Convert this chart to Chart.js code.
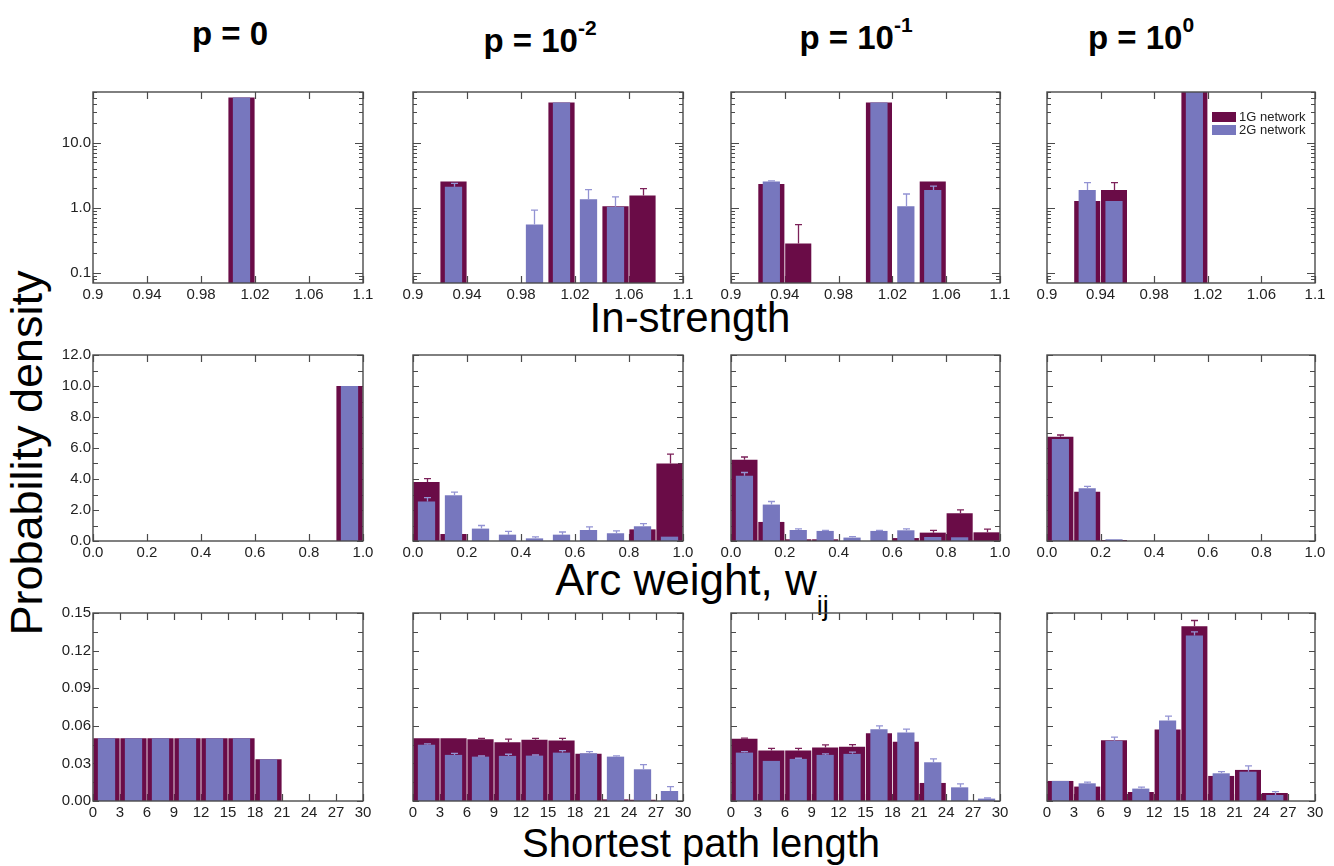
<!DOCTYPE html>
<html>
<head>
<meta charset="utf-8">
<script src="https://cdn.jsdelivr.net/npm/chart.js@4/dist/chart.umd.min.js"></script>
<style>
  html, body { margin:0; padding:0; background:#fff; }
  #wrap { position:relative; width:1334px; height:866px; overflow:hidden; background:#fff; font-family:"Liberation Sans", Arial, sans-serif; color:#000; }
  .ptitle { position:absolute; font-weight:bold; font-size:33px; line-height:33px; white-space:nowrap; transform:translateX(-50%); }
  .ptitle sup { font-size:21px; position:relative; top:-17px; vertical-align:baseline; line-height:0; }
  .atitle { position:absolute; font-size:42px; line-height:42px; white-space:nowrap; transform:translateX(-50%); }
  .atitle sub { font-size:27px; position:relative; top:20px; vertical-align:baseline; line-height:0; }
  #ylab { position:absolute; font-size:45px; line-height:45px; white-space:nowrap; left:26px; top:453px; transform:translate(-50%,-50%) rotate(-90deg); }
  canvas { position:absolute; }
</style>
</head>
<body>
<div id="wrap">
  <div class="ptitle" style="left:230px; top:17px;">p = 0</div>
  <div class="ptitle" style="left:540px; top:24px;">p = 10<sup>-2</sup></div>
  <div class="ptitle" style="left:856px; top:21px;">p = 10<sup>-1</sup></div>
  <div class="ptitle" style="left:1141px; top:21px;">p = 10<sup>0</sup></div>
  <div class="atitle" style="left:690px; top:297px;">In-strength</div>
  <div class="atitle" style="left:692px; top:558px; font-size:44px; line-height:44px;">Arc weight, w<sub>ij</sub></div>
  <div class="atitle" style="left:701px; top:823px; font-size:40px; line-height:40px;">Shortest path length</div>
  <div id="ylab">Probability density</div>
</div>
<script>
// ---------------- DATA ----------------
const seriesNames = ['1G network', '2G network'];

// Row 1: In-strength (bin width 0.02)
const inStrengthBins = [0.91, 0.93, 0.95, 0.97, 0.99, 1.01, 1.03, 1.05, 1.07, 1.09];
const inStrengthXTicks = [0.9, 0.94, 0.98, 1.02, 1.06, 1.1];
const inStrengthXLabels = ['0.9', '0.94', '0.98', '1.02', '1.06', '1.1'];
const inStrengthYTicks = [0.1, 1, 10];
const inStrengthYLabels = ['0.1', '1.0', '10.0'];
const inStrengthYMinor = [0.07, 0.08, 0.09, 0.2, 0.3, 0.4, 0.5, 0.6, 0.7, 0.8, 0.9, 2, 3, 4, 5, 6, 7, 8, 9, 20, 30, 40, 50, 60];

const inS_p0_1G      = [null, null, null, null, null, 50, null, null, null, null];
const inS_p0_1G_err  = [0, 0, 0, 0, 0, 0, 0, 0, 0, 0];
const inS_p0_2G      = [null, null, null, null, null, 50, null, null, null, null];
const inS_p0_2G_err  = [0, 0, 0, 0, 0, 0, 0, 0, 0, 0];

const inS_pm2_1G     = [null, 2.55, null, null, null, 42, null, 1.05, 1.55, null];
const inS_pm2_1G_err = [0, 0, 0, 0, 0, 0, 0, 0, 0.42, 0];
const inS_pm2_2G     = [null, 2.1, null, null, 0.55, 42, 1.35, 1.04, null, null];
const inS_pm2_2G_err = [0, 0.27, 0, 0, 0.37, 0, 0.55, 0.43, 0, 0];

const inS_pm1_1G     = [null, 2.32, 0.28, null, null, 42, null, 2.55, null, null];
const inS_pm1_1G_err = [0, 0, 0.27, 0, 0, 0, 0, 0, 0, 0];
const inS_pm1_2G     = [null, 2.55, null, null, null, 42, 1.05, 1.88, null, null];
const inS_pm1_2G_err = [0, 0.05, 0, 0, 0, 0, 0.58, 0.28, 0, 0];

const inS_p1_1G      = [null, 1.27, 1.88, null, null, 65, null, null, null, null];
const inS_p1_1G_err  = [0, 0, 0.56, 0, 0, 0, 0, 0, 0, 0];
const inS_p1_2G      = [null, 1.88, 1.27, null, null, 65, null, null, null, null];
const inS_p1_2G_err  = [0, 0.56, 0, 0, 0, 0, 0, 0, 0, 0];

// Row 2: Arc weight (bin width 0.1)
const arcBins = [0.05, 0.15, 0.25, 0.35, 0.45, 0.55, 0.65, 0.75, 0.85, 0.95];
const arcXTicks = [0, 0.2, 0.4, 0.6, 0.8, 1.0];
const arcXLabels = ['0.0', '0.2', '0.4', '0.6', '0.8', '1.0'];
const arcYTicks = [0, 2, 4, 6, 8, 10, 12];
const arcYLabels = ['0.0', '2.0', '4.0', '6.0', '8.0', '10.0', '12.0'];
const arcYMinor = [1, 3, 5, 7, 9, 11];

const arc_p0_1G      = [null, null, null, null, null, null, null, null, null, 10];
const arc_p0_1G_err  = [0, 0, 0, 0, 0, 0, 0, 0, 0, 0];
const arc_p0_2G      = [null, null, null, null, null, null, null, null, null, 10];
const arc_p0_2G_err  = [0, 0, 0, 0, 0, 0, 0, 0, 0, 0];

const arc_pm2_1G     = [3.8, 0.45, null, null, null, null, null, null, 0.75, 5.0];
const arc_pm2_1G_err = [0.22, 0, 0, 0, 0, 0, 0, 0, 0, 0.6];
const arc_pm2_2G     = [2.55, 2.95, 0.8, 0.41, 0.17, 0.41, 0.71, 0.5, 0.95, 0.28];
const arc_pm2_2G_err = [0.25, 0.2, 0.2, 0.21, 0.1, 0.17, 0.2, 0.15, 0.17, 0];

const arc_pm1_1G     = [5.24, 1.23, 0.11, 0.11, null, null, 0.19, 0.54, 1.79, 0.56];
const arc_pm1_1G_err = [0.18, 0, 0, 0, 0, 0, 0, 0.15, 0.22, 0.2];
const arc_pm1_2G     = [4.21, 2.35, 0.71, 0.65, 0.22, 0.65, 0.69, 0.26, 0.24, null];
const arc_pm1_2G_err = [0.21, 0.2, 0.07, 0.04, 0.06, 0.04, 0.09, 0, 0, 0];

const arc_p1_1G      = [6.73, 3.17, 0.06, null, null, null, null, null, null, null];
const arc_p1_1G_err  = [0.11, 0, 0, 0, 0, 0, 0, 0, 0, 0];
const arc_p1_2G      = [6.58, 3.41, 0.11, null, null, null, null, null, null, null];
const arc_p1_2G_err  = [0, 0.11, 0, 0, 0, 0, 0, 0, 0, 0];

// Row 3: Shortest path length (bin width 3)
const splBins = [1.5, 4.5, 7.5, 10.5, 13.5, 16.5, 19.5, 22.5, 25.5, 28.5];
const splXTicks = [0, 3, 6, 9, 12, 15, 18, 21, 24, 27, 30];
const splXLabels = ['0', '3', '6', '9', '12', '15', '18', '21', '24', '27', '30'];
const splYTicks = [0, 0.03, 0.06, 0.09, 0.12, 0.15];
const splYLabels = ['0.00', '0.03', '0.06', '0.09', '0.12', '0.15'];
const splYMinor = [0.015, 0.045, 0.075, 0.105, 0.135];

const spl_p0_1G      = [0.05, 0.05, 0.05, 0.05, 0.05, 0.05, 0.0333, null, null, null];
const spl_p0_1G_err  = [0, 0, 0, 0, 0, 0, 0, 0, 0, 0];
const spl_p0_2G      = [0.05, 0.05, 0.05, 0.05, 0.05, 0.05, 0.0333, null, null, null];
const spl_p0_2G_err  = [0, 0, 0, 0, 0, 0, 0, 0, 0, 0];

const spl_pm2_1G     = [0.0501, 0.0501, 0.0493, 0.0469, 0.0488, 0.0482, 0.0376, 0.0013, 0.001, null];
const spl_pm2_1G_err = [0, 0, 0.0007, 0.0024, 0.0012, 0.0018, 0, 0, 0, 0];
const spl_pm2_2G     = [0.0448, 0.0368, 0.0354, 0.036, 0.0362, 0.0386, 0.0381, 0.0354, 0.0253, 0.008];
const spl_pm2_2G_err = [0.0008, 0.0012, 0.0005, 0.0013, 0.0005, 0.0016, 0.0013, 0.0006, 0.0037, 0.0035];

const spl_pm1_1G     = [0.0496, 0.0402, 0.0402, 0.0426, 0.0432, 0.054, 0.0472, 0.0144, null, null];
const spl_pm1_1G_err = [0.0005, 0.0018, 0.0018, 0.0022, 0.0018, 0, 0, 0, 0, 0];
const spl_pm1_2G     = [0.0386, 0.032, 0.0336, 0.0368, 0.0376, 0.0573, 0.0546, 0.0309, 0.0109, 0.0019];
const spl_pm1_2G_err = [0.0008, 0, 0.0005, 0.0008, 0.0014, 0.0027, 0.0027, 0.0027, 0.0027, 0.0005];

const spl_p1_1G      = [0.016, 0.0115, 0.0485, 0.0072, 0.057, 0.1394, 0.02, 0.0248, 0.0064, null];
const spl_p1_1G_err  = [0, 0, 0, 0, 0, 0.0046, 0, 0, 0, 0];
const spl_p1_2G      = [0.016, 0.0141, 0.048, 0.0099, 0.0642, 0.132, 0.0221, 0.0234, 0.0048, null];
const spl_p1_2G_err  = [0, 0.0009, 0.003, 0.0011, 0.0035, 0.003, 0.0013, 0.0046, 0.0027, 0];

// ---------------- STYLE / LAYOUT ----------------
const MAROON = '#6a0c47';
const BLUE = '#7777be';
const MAROON_ERR = '#7c2159';
const BLUE_ERR = '#9393d3';
const FRAME = '#4a4a4a';
const COLS = [[93, 363], [413, 683], [731, 1000], [1047, 1315]];
const ROWS = [[92, 283], [355, 541], [613, 801]];
const PADL = 50, PADR = 16, PADT = 10, PADB = 26;

Chart.defaults.font.family = '"Liberation Sans", Arial, sans-serif';
Chart.defaults.color = '#222';

const rowsCfg = [
  { type: 'logarithmic', bins: inStrengthBins, xMin: 0.9, xMax: 1.1, xTicks: inStrengthXTicks, xLabels: inStrengthXLabels,
    yMin: 0.069, yMax: 61, yTicks: inStrengthYTicks, yLabels: inStrengthYLabels, yMinor: inStrengthYMinor, majLen: 8, minLen: 4,
    panels: [[inS_p0_1G, inS_p0_1G_err, inS_p0_2G, inS_p0_2G_err], [inS_pm2_1G, inS_pm2_1G_err, inS_pm2_2G, inS_pm2_2G_err],
             [inS_pm1_1G, inS_pm1_1G_err, inS_pm1_2G, inS_pm1_2G_err], [inS_p1_1G, inS_p1_1G_err, inS_p1_2G, inS_p1_2G_err]] },
  { type: 'linear', bins: arcBins, xMin: 0, xMax: 1, xTicks: arcXTicks, xLabels: arcXLabels,
    yMin: 0, yMax: 12, yTicks: arcYTicks, yLabels: arcYLabels, yMinor: arcYMinor, majLen: 6, minLen: 5,
    panels: [[arc_p0_1G, arc_p0_1G_err, arc_p0_2G, arc_p0_2G_err], [arc_pm2_1G, arc_pm2_1G_err, arc_pm2_2G, arc_pm2_2G_err],
             [arc_pm1_1G, arc_pm1_1G_err, arc_pm1_2G, arc_pm1_2G_err], [arc_p1_1G, arc_p1_1G_err, arc_p1_2G, arc_p1_2G_err]] },
  { type: 'linear', bins: splBins, xMin: 0, xMax: 30, xTicks: splXTicks, xLabels: splXLabels,
    yMin: 0, yMax: 0.15, yTicks: splYTicks, yLabels: splYLabels, yMinor: splYMinor, majLen: 6, minLen: 5,
    panels: [[spl_p0_1G, spl_p0_1G_err, spl_p0_2G, spl_p0_2G_err], [spl_pm2_1G, spl_pm2_1G_err, spl_pm2_2G, spl_pm2_2G_err],
             [spl_pm1_1G, spl_pm1_1G_err, spl_pm1_2G, spl_pm1_2G_err], [spl_p1_1G, spl_p1_1G_err, spl_p1_2G, spl_p1_2G_err]] }
];

// ---------------- PLUGINS ----------------
const frameTicksPlugin = {
  id: 'frameTicks',
  beforeDatasetsDraw(chart, args, opts) {
    const { ctx, chartArea: a, scales: { x, y } } = chart;
    ctx.save();
    ctx.strokeStyle = FRAME;
    ctx.lineWidth = 1.2;
    ctx.beginPath();
    opts.xTicks.forEach(v => {
      const px = Math.round(x.getPixelForValue(v)) + 0.5;
      ctx.moveTo(px, a.top); ctx.lineTo(px, a.top + 7);
      ctx.moveTo(px, a.bottom); ctx.lineTo(px, a.bottom - 7);
    });
    opts.yTicks.forEach(v => {
      const py = Math.round(y.getPixelForValue(v)) + 0.5;
      ctx.moveTo(a.left, py); ctx.lineTo(a.left + opts.majLen, py);
      ctx.moveTo(a.right, py); ctx.lineTo(a.right - opts.majLen, py);
    });
    opts.yMinor.forEach(v => {
      const py = Math.round(y.getPixelForValue(v)) + 0.5;
      if (py < a.top || py > a.bottom) return;
      ctx.moveTo(a.left, py); ctx.lineTo(a.left + opts.minLen, py);
      ctx.moveTo(a.right, py); ctx.lineTo(a.right - opts.minLen, py);
    });
    ctx.stroke();
    ctx.restore();
  },
  afterDatasetsDraw(chart) {
    const { ctx, chartArea: a } = chart;
    ctx.save();
    ctx.strokeStyle = FRAME;
    ctx.lineWidth = 1.4;
    ctx.strokeRect(a.left, a.top, a.right - a.left, a.bottom - a.top);
    ctx.restore();
  }
};

const errorBarPlugin = {
  id: 'errorBars',
  afterDatasetDraw(chart, args) {
    const ds = chart.data.datasets[args.index];
    const errs = ds.errors;
    if (!errs) return;
    const { ctx, chartArea: a, scales: { y } } = chart;
    ctx.save();
    ctx.beginPath();
    ctx.rect(a.left, a.top, a.right - a.left, a.bottom - a.top);
    ctx.clip();
    ctx.strokeStyle = ds.errorColor;
    ctx.lineWidth = 1.3;
    ctx.beginPath();
    args.meta.data.forEach((el, i) => {
      const v = ds.data[i].y;
      const e = errs[i];
      if (v == null || !e) return;
      const top = y.getPixelForValue(v + e);
      const px = Math.round(el.x) + 0.5;
      ctx.moveTo(px, el.y); ctx.lineTo(px, top);
      ctx.moveTo(px - 3.5, top); ctx.lineTo(px + 3.5, top);
    });
    ctx.stroke();
    ctx.restore();
  }
};

const insideLegendPlugin = {
  id: 'insideLegend',
  afterDraw(chart, args, opts) {
    if (!opts.show) return;
    const { ctx, chartArea: a } = chart;
    ctx.save();
    ctx.font = '13px "Liberation Sans", Arial, sans-serif';
    ctx.textBaseline = 'middle';
    ctx.textAlign = 'left';
    chart.data.datasets.forEach((ds, i) => {
      const yy = a.top + 20 + i * 13;
      ctx.fillStyle = ds.backgroundColor;
      ctx.fillRect(a.right - 103, yy, 24, 10);
      ctx.fillStyle = '#222';
      ctx.fillText(ds.label, a.right - 76, yy + 5);
    });
    ctx.restore();
  }
};

// ---------------- BUILD ----------------
const wrap = document.getElementById('wrap');

rowsCfg.forEach((rc, r) => {
  rc.panels.forEach((p, c) => {
    const [fl, fr] = COLS[c];
    const [ft, fb] = ROWS[r];
    const w = fr - fl + PADL + PADR;
    const h = fb - ft + PADT + PADB;
    const cv = document.createElement('canvas');
    cv.width = w; cv.height = h;
    cv.style.left = (fl - PADL) + 'px';
    cv.style.top = (ft - PADT) + 'px';
    cv.style.width = w + 'px';
    cv.style.height = h + 'px';
    wrap.appendChild(cv);

    const [s1, e1, s2, e2] = p;
    new Chart(cv, {
      type: 'bar',
      data: {
        datasets: [
          { label: seriesNames[0], data: rc.bins.map((x, i) => ({ x, y: s1[i] })), errors: e1, errorColor: MAROON_ERR,
            backgroundColor: MAROON, borderWidth: 0, grouped: false, categoryPercentage: 1, barPercentage: 0.97, order: 2 },
          { label: seriesNames[1], data: rc.bins.map((x, i) => ({ x, y: s2[i] })), errors: e2, errorColor: BLUE_ERR,
            backgroundColor: BLUE, borderWidth: 0, grouped: false, categoryPercentage: 1, barPercentage: 0.64, order: 1 }
        ]
      },
      options: {
        responsive: false,
        animation: false,
        devicePixelRatio: 1,
        layout: { padding: { left: 0, right: PADR, top: PADT, bottom: 0 } },
        plugins: {
          legend: { display: false },
          tooltip: { enabled: false },
          frameTicks: { xTicks: rc.xTicks, yTicks: rc.yTicks, yMinor: rc.yMinor, majLen: rc.majLen, minLen: rc.minLen },
          insideLegend: { show: r === 0 && c === 3 }
        },
        scales: {
          x: {
            type: 'linear', min: rc.xMin, max: rc.xMax, offset: false,
            grid: { display: false, drawTicks: false }, border: { display: false },
            ticks: { font: { size: 15 }, color: '#222', padding: 3, maxRotation: 0, autoSkip: false,
                     callback: (v, i) => rc.xLabels[i] },
            afterBuildTicks: s => { s.ticks = rc.xTicks.map(v => ({ value: v })); },
            afterFit: s => { s.height = PADB; s.paddingLeft = 0; s.paddingRight = 0; }
          },
          y: {
            type: rc.type, min: rc.yMin, max: rc.yMax,
            grid: { display: false, drawTicks: false }, border: { display: false },
            ticks: { display: c === 0, font: { size: 15 }, color: '#222', padding: 2, autoSkip: false,
                     callback: (v, i) => rc.yLabels[i] },
            afterBuildTicks: s => { s.ticks = rc.yTicks.map(v => ({ value: v })); },
            afterFit: s => { s.width = PADL; s.paddingTop = 0; s.paddingBottom = 0; }
          }
        }
      },
      plugins: [frameTicksPlugin, errorBarPlugin, insideLegendPlugin]
    });
  });
});
</script>
</body>
</html>
